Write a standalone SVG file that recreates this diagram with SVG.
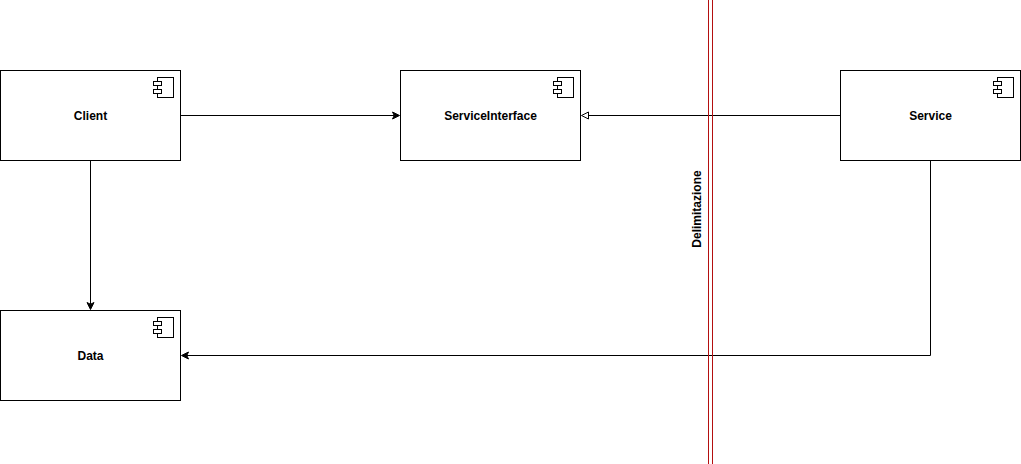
<svg xmlns="http://www.w3.org/2000/svg" width="1021" height="464" viewBox="0 0 1021 464">
<style>
.box{fill:#fff;stroke:#000;stroke-width:1}
.lbl{font:bold 12px "Liberation Sans",Arial,sans-serif;fill:#000;text-anchor:middle}
.edge{fill:none;stroke:#000;stroke-width:1}
.tip{fill:#000;stroke:#000;stroke-width:1}
.open{fill:#fff;stroke:#000;stroke-width:1}
.sep{fill:none;stroke:#b40f0f;stroke-width:1}
</style>
<defs>
<g id="icon">
<rect class="box" x="-23" y="7" width="16" height="20"/>
<rect class="box" x="-27" y="11" width="8" height="4"/>
<rect class="box" x="-27" y="19" width="8" height="4"/>
</g>
</defs>
<rect width="1021" height="464" fill="#fff"/>
<g id="connectors">
<path class="edge" d="M180.500 115.500H394"/>
<path class="tip" d="M399.500 115.500L392.500 119L394.250 115.500L392.500 112Z"/>
<path class="edge" d="M840.500 115.500H588.500"/>
<path class="open" d="M581.500 115.500L588.500 112V119Z"/>
<path class="edge" d="M90.500 160.500V304"/>
<path class="tip" d="M90.500 309.500L87 302.500L90.500 304.250L94 302.500Z"/>
<path class="edge" d="M930.500 160.500V355.500H187"/>
<path class="tip" d="M181.500 355.500L188.500 352L186.750 355.500L188.500 359Z"/>
</g>
<g id="separator">
<path class="sep" d="M708.500 0V464M712.500 0V464"/>
<text class="lbl" transform="translate(700.500,209) rotate(-90)">Delimitazione</text>
</g>
<g id="client">
<rect class="box" x="0.500" y="70.500" width="180" height="90"/>
<use href="#icon" transform="translate(180.500,70.500)"/>
<text class="lbl" x="90.500" y="120">Client</text>
</g>
<g id="service-interface">
<rect class="box" x="400.500" y="70.500" width="180" height="90"/>
<use href="#icon" transform="translate(580.500,70.500)"/>
<text class="lbl" x="490.500" y="120">ServiceInterface</text>
</g>
<g id="service">
<rect class="box" x="840.500" y="70.500" width="180" height="90"/>
<use href="#icon" transform="translate(1020.500,70.500)"/>
<text class="lbl" x="930.500" y="120">Service</text>
</g>
<g id="data">
<rect class="box" x="0.500" y="310.500" width="180" height="90"/>
<use href="#icon" transform="translate(180.500,310.500)"/>
<text class="lbl" x="90.500" y="360">Data</text>
</g>
</svg>
